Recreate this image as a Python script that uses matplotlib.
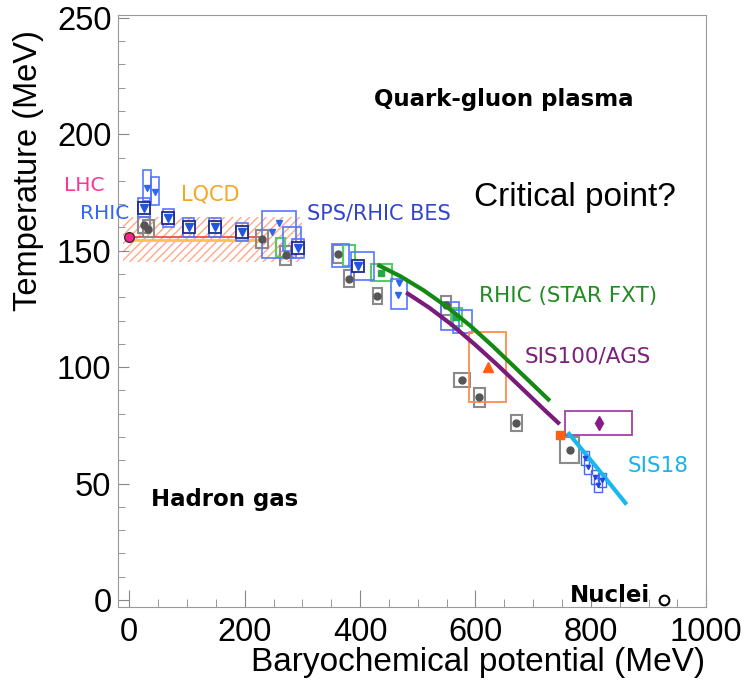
import matplotlib.pyplot as plt
import numpy as np
from matplotlib.patches import Rectangle
from matplotlib.ticker import MultipleLocator

plt.rcParams['font.family'] = ['Liberation Sans', 'DejaVu Sans']
plt.rcParams['hatch.linewidth'] = 1.0

# ---- freeze-out data (mu_B, T) in MeV ----

# RHIC / SPS / BES analyses: blue triangles
bes_mu = [30, 45, 259, 247, 468, 466]
bes_T = [177, 175, 162, 158, 136, 131]
# points drawn with a dark square around the triangle
besq_mu = [26, 68, 103, 149, 195, 292, 397]
besq_T = [168.5, 164, 160, 160, 158, 151, 143.5]
# blue systematic boxes: centre and half widths
bbox_mu = [30, 45, 26, 68, 103, 149, 195, 259, 282, 292, 366, 404, 468, 556, 577]
bbox_T = [178, 175.5, 168.5, 164, 160, 160, 158, 157, 155, 151, 148, 143.5, 131.5, 122, 119.6]
bbox_dmu = [7, 7, 10, 10, 10, 10, 10, 29.5, 15, 10, 15, 20, 14, 15.5, 16.5]
bbox_dT = [6.5, 6, 4, 4, 4, 4, 4, 10, 5, 4, 5, 6, 6.5, 6, 5]

# grey analysis points with boxes
grey_mu = [26, 33, 230, 271, 362, 381, 430, 549, 577, 607, 671, 763]
grey_T = [161, 159.5, 155, 148, 148.5, 138, 130.5, 126.5, 94.5, 87, 76, 64.5]
grey_dmu = [10, 10, 10, 9, 9, 8, 8, 8, 14, 9, 9, 16]
grey_dT = [3.5, 3.5, 4, 4, 4, 3.5, 3.5, 4, 3, 4, 3.5, 5.5]

# green points (fixed target) with boxes
green_mu = [262, 381, 437, 567]
green_T = [151.5, 148, 140.5, 121.5]
green_dmu = [8, 10, 18, 10]
green_dT = [4, 4.5, 3.7, 4]

# SIS18 points (small blue boxes)
sis_mu = [790, 795, 807, 819, 812]
sis_T = [61, 57, 53, 51.5, 49.5]

# single measurements
lhc = (0, 156)
nuclei = (927, 0)
ags_tri = (621, 100, 32.5, 15)     # mu, T, dmu, dT
sis_dia = (814, 76, 58, 5.2)
ags_sq = (746, 71)

# lattice QCD band and lines
lqcd_mu = [-10, 300]
lqcd_lo, lqcd_hi = 145, 164.5
lqcd_line_mu = [0, 225]

# expected freeze-out curves
fxt_mu = [430, 470, 510, 550, 590, 630, 670, 710, 729]
fxt_T = [144, 139, 133, 126, 118, 109, 99.5, 90, 85.5]
sis100_mu = [480, 520, 560, 600, 640, 680, 720, 746]
sis100_T = [132, 125.5, 118, 109.5, 100.5, 91, 81.5, 75.5]
sis18_mu = [760, 810, 862]
sis18_T = [72, 57, 41]

fig = plt.figure(figsize=(7.45, 6.91), dpi=100)
ax = fig.add_axes([0.158, 0.1216, 0.79, 0.856])


def boxes(mu, T, dmu, dT, color, lw=1.2):
    for m, t, dm, dt in zip(mu, T, dmu, dT):
        ax.add_patch(Rectangle((m - dm, t - dt), 2 * dm, 2 * dt, fill=False,
                               edgecolor=color, lw=lw, zorder=3))


# LQCD hatched band
ax.fill_between(lqcd_mu, lqcd_lo, lqcd_hi, facecolor='none', edgecolor='#ffa888',
                hatch='////', lw=0, zorder=1)
ax.plot(lqcd_line_mu, [154.5, 154.5], color='#ffc24a', lw=2, zorder=2)
ax.plot(lqcd_line_mu, [156, 156], color='#f04040', lw=1.2, zorder=2)

# curves
ax.plot(fxt_mu, fxt_T, color='#148a14', lw=3, solid_capstyle='butt',
        solid_joinstyle='round', zorder=5)
ax.plot(sis100_mu, sis100_T, color='#7a1a7a', lw=3, solid_capstyle='butt',
        solid_joinstyle='round', zorder=5)
ax.plot(sis18_mu, sis18_T, color='#18b8ec', lw=3, solid_capstyle='butt', zorder=5)

# grey points
boxes(grey_mu, grey_T, grey_dmu, grey_dT, '#8a8a8a', lw=1.5)
ax.plot(grey_mu, grey_T, 'o', color='#555555', ms=5, zorder=4)

# green points
boxes(green_mu, green_T, green_dmu, green_dT, '#55cc66', lw=1.5)
ax.plot(green_mu[2:], green_T[2:], 's', color='#22aa44', ms=5, zorder=4)

# blue points
boxes(bbox_mu, bbox_T, bbox_dmu, bbox_dT, '#5577ff')
ax.plot(besq_mu, besq_T, 's', mfc='white', mec='#1c2a8c', mew=1.3, ms=9, zorder=6)
ax.plot(besq_mu, besq_T, 'v', color='#2255dd', ms=6, zorder=7)
ax.plot(bes_mu, bes_T, 'v', color='#2f66ee', ms=5, zorder=6)

# SIS18
boxes(sis_mu, sis_T, [7] * len(sis_mu), [3] * len(sis_T), '#4466ff', lw=1)
ax.plot(sis_mu, sis_T, 'v', color='#2244dd', ms=3, zorder=6)

# AGS / SIS100 single points
boxes([ags_tri[0]], [ags_tri[1]], [ags_tri[2]], [ags_tri[3]], '#ff8c4a', lw=1.3)
ax.plot(ags_tri[0], ags_tri[1], '^', color='#ff6010', ms=7, zorder=6)
boxes([sis_dia[0]], [sis_dia[1]], [sis_dia[2]], [sis_dia[3]], '#a040a8', lw=1.3)
ax.plot(sis_dia[0], sis_dia[1], 'd', color='#8b1a8b', ms=7, zorder=6)
ax.plot(*ags_sq, 's', color='#ff6010', ms=6, zorder=6)

# LHC and nuclei
ax.plot(*lhc, 'o', mfc='#ff2288', mec='#333333', mew=1, ms=7, zorder=8)
ax.plot(*nuclei, 'o', mfc='white', mec='black', mew=1.5, ms=7, zorder=8, clip_on=False)

# labels
ax.text(-113, 178, 'LHC', color='#ff3399', fontsize=14.5, family='DejaVu Sans', va='center')
ax.text(-85, 166, 'RHIC', color='#3366ff', fontsize=14.5, family='DejaVu Sans', va='center')
ax.text(90, 174, 'LQCD', color='#f5a623', fontsize=15, family='DejaVu Sans', va='center')
ax.text(308, 166, 'SPS/RHIC BES', color='#3344cc', fontsize=15, family='DejaVu Sans', va='center')
ax.text(607, 130.6, 'RHIC (STAR FXT)', color='#228b22', fontsize=15.5, family='DejaVu Sans', va='center')
ax.text(685, 104.4, 'SIS100/AGS', color='#7b1f7b', fontsize=15.5, family='DejaVu Sans', va='center')
ax.text(864, 57.6, 'SIS18', color='#1ab2ea', fontsize=15.5, family='DejaVu Sans', va='center')
ax.text(424, 214.8, 'Quark-gluon plasma', fontsize=16.5, weight='bold', family='DejaVu Sans', va='center')
ax.text(598, 173, 'Critical point?', fontsize=24, va='center')
ax.text(38, 43, 'Hadron gas', fontsize=16.5, weight='bold', family='DejaVu Sans', va='center')
ax.text(763, 2, 'Nuclei', fontsize=16.5, weight='bold', family='DejaVu Sans', va='center')

# axes
ax.set_xlim(-20, 1000)
ax.set_ylim(-3, 251)
ax.xaxis.set_major_locator(MultipleLocator(200))
ax.xaxis.set_minor_locator(MultipleLocator(50))
ax.yaxis.set_major_locator(MultipleLocator(50))
ax.yaxis.set_minor_locator(MultipleLocator(10))
ax.tick_params(axis='both', which='both', direction='in', color='#888888',
               labelsize=23.5, top=False, right=False)
ax.tick_params(axis='x', which='major', length=12, pad=7)
ax.tick_params(axis='x', which='minor', length=6)
ax.tick_params(axis='y', which='major', length=8, pad=4.5)
ax.tick_params(axis='y', which='minor', length=5)
for s in ax.spines.values():
    s.set_color('#999999')

fig.text(29 / 745, 1 - 30 / 691, 'Temperature (MeV)', rotation=90, ha='center', va='top', fontsize=23.5)
fig.text(705 / 745, 1 - 663 / 691, 'Baryochemical potential (MeV)', ha='right', va='center', fontsize=24)

fig.savefig('out.png', dpi=100)
